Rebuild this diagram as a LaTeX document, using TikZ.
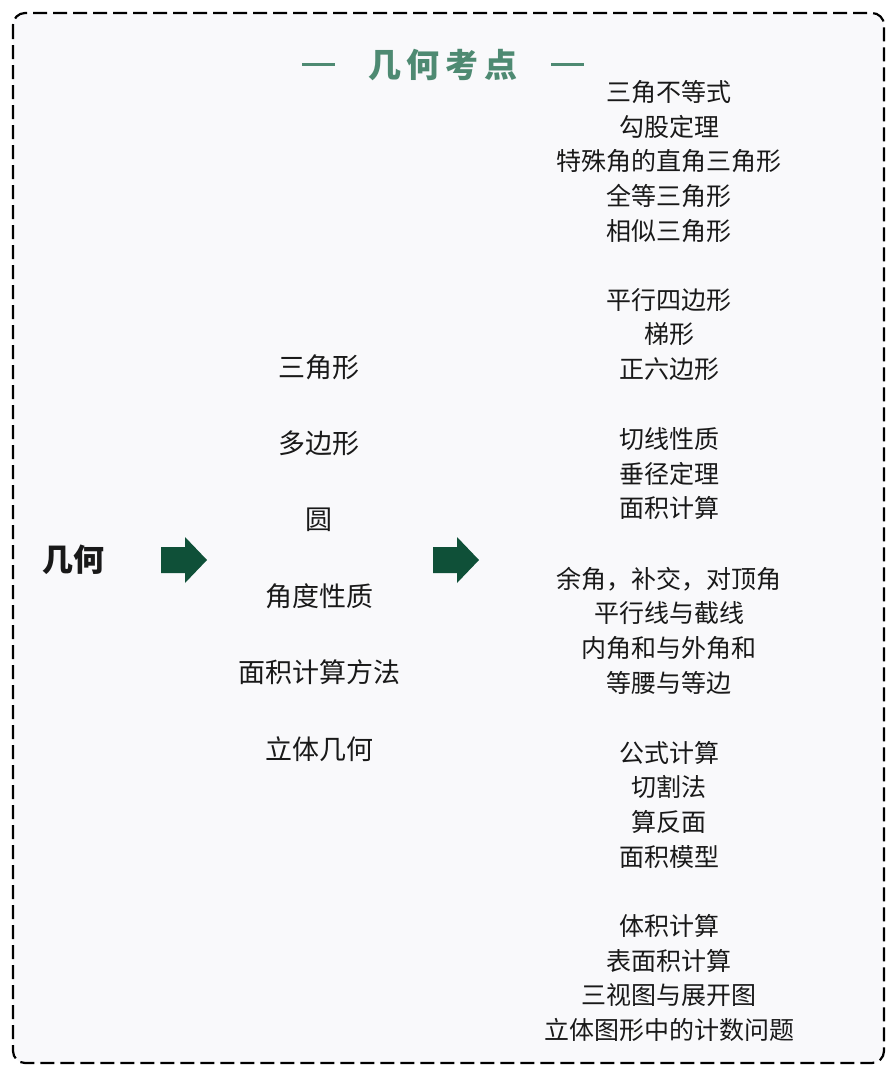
\documentclass[tikz,border=0pt]{standalone}
\usepackage{fontspec}
\setmainfont{Noto Sans CJK SC}
\definecolor{titlegreen}{HTML}{4E8A72}
\definecolor{arrowgreen}{HTML}{0F5038}
\definecolor{panelbg}{HTML}{F9F9FB}

\begin{document}
\begin{tikzpicture}[x=1pt,y=-1pt,
    every node/.style={inner sep=0pt,text=black!90},
    topic/.style={font=\fontsize{27}{30}\selectfont},
    detail/.style={font=\fontsize{25}{34.7}\selectfont,align=center}]
  \useasboundingbox (0,0) rectangle (896,1076);
  \fill[white] (0,0) rectangle (896,1076);
  \draw[fill=panelbg,line width=2.2pt,rounded corners=12pt,
        dash pattern=on 14pt off 6pt] (13,13) rectangle (884,1063);

  \node[text=titlegreen,font=\fontsize{33}{33}\selectfont\bfseries] (title) at (443,65)
    {\rule[11pt]{33pt}{3pt}\hspace{33pt}几\hspace{6pt}何\hspace{6pt}考\hspace{6pt}点\hspace{33pt}\rule[11pt]{33pt}{3pt}};

  \node[font=\fontsize{31}{31}\selectfont\bfseries] (geo) at (73.5,560) {几何};

  \foreach \x in {161,433}
  \fill[arrowgreen] (\x,547) -- ++(24,0) -- ++(0,-10) -- ++(22,23)
    -- ++(-22,23) -- ++(0,-10) -- ++(-24,0) -- cycle;

  \foreach \t [count=\i] in {三角形,多边形,圆,角度性质,面积计算方法,立体几何}
  \node[topic] (m\i) at (319,{367+76.4*(\i-1)}) {\t};

  \node[detail] (r1) at (669,161.5) {三角不等式\\勾股定理\\特殊角的直角三角形\\全等三角形\\相似三角形};
  \node[detail] (r2) at (669,334.5) {平行四边形\\梯形\\正六边形};
  \node[detail] (r3) at (669,473.5) {切线性质\\垂径定理\\面积计算};
  \node[detail] (r4) at (669,630.5) {余角，补交，对顶角\\平行线与截线\\内角和与外角和\\等腰与等边};
  \node[detail] (r5) at (669,804.5) {公式计算\\切割法\\算反面\\面积模型};
  \node[detail] (r6) at (669,978) {体积计算\\表面积计算\\三视图与展开图\\立体图形中的计数问题};
\end{tikzpicture}
\end{document}
